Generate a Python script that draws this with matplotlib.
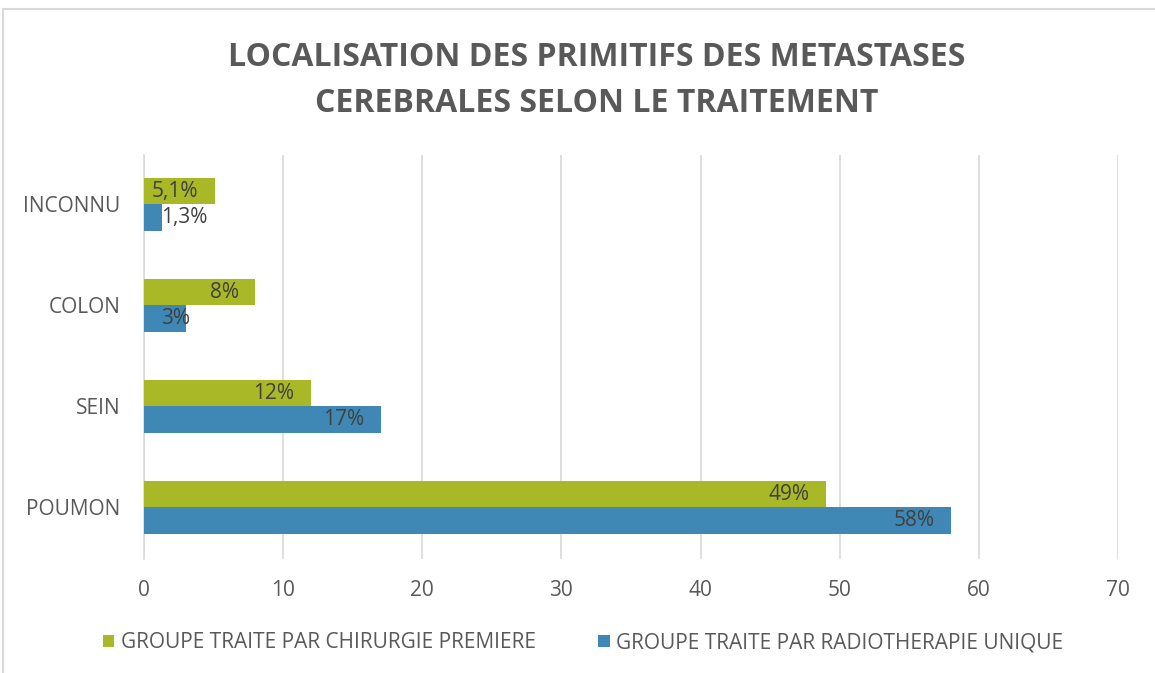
import matplotlib
matplotlib.use("Agg")
import matplotlib.pyplot as plt
from matplotlib.lines import Line2D
import numpy as np

categories = ["POUMON", "SEIN", "COLON", "INCONNU"]
chirurgie = [49, 12, 8, 5.1]
radiotherapie = [58, 17, 3, 1.3]
chirurgie_labels = ["49%", "12%", "8%", "5,1%"]
radiotherapie_labels = ["58%", "17%", "3%", "1,3%"]
series_names = ["GROUPE TRAITE PAR CHIRURGIE PREMIERE",
                "GROUPE TRAITE PAR RADIOTHERAPIE UNIQUE"]
xticks = [0, 10, 20, 30, 40, 50, 60, 70]

GREEN = "#A8B826"
BLUE = "#3F88B5"
TEXT = "#595959"
LABEL = "#404040"
GRID = "#D9D9D9"
FS = 15

plt.rcParams["font.family"] = ["Open Sans", "DejaVu Sans"]

W, H = 1155, 673
fig = plt.figure(figsize=(W / 100, H / 100), dpi=100)
ax = fig.add_axes([144 / W, 114 / H, (1118 - 144) / W, (559 - 155) / H])

y = np.arange(len(categories))
bh = 0.26
ax.barh(y + bh / 2, chirurgie, height=bh, color=GREEN, label=series_names[0], zorder=3)
ax.barh(y - bh / 2, radiotherapie, height=bh, color=BLUE, label=series_names[1], zorder=3)


def add_labels(vals, labels, offs):
    for yi, v, lab in zip(y, vals, labels):
        if v < 4:
            ax.annotate(lab, xy=(0, yi + offs), xytext=(12, 0), textcoords="offset points",
                        ha="left", va="center", fontsize=FS, color=LABEL, zorder=4)
        else:
            ax.annotate(lab, xy=(v, yi + offs), xytext=(-12, 0), textcoords="offset points",
                        ha="right", va="center", fontsize=FS, color=LABEL, zorder=4)


add_labels(chirurgie, chirurgie_labels, bh / 2)
add_labels(radiotherapie, radiotherapie_labels, -bh / 2)

ax.set_xlim(0, 70)
ax.set_ylim(-0.51, 3.49)
ax.set_xticks(xticks)
ax.set_yticks(y)
ax.set_yticklabels(categories)
ax.tick_params(axis="both", length=0, labelsize=FS, labelcolor=TEXT)
ax.tick_params(axis="x", pad=15)
ax.tick_params(axis="y", pad=17)
ax.grid(axis="x", color=GRID, linewidth=1.2, zorder=0)
for s in ["top", "right", "bottom"]:
    ax.spines[s].set_visible(False)
ax.spines["left"].set_color(GRID)
ax.spines["left"].set_linewidth(1.2)

title_x = 597 / W
fig.text(title_x, 1 - 58 / H, "LOCALISATION DES PRIMITIFS DES METASTASES",
         ha="center", va="center", fontsize=23, fontweight="bold", color=TEXT)
fig.text(title_x, 1 - 103 / H, "CEREBRALES SELON LE TRAITEMENT",
         ha="center", va="center", fontsize=23, fontweight="bold", color=TEXT)

fig.legend(loc="center", bbox_to_anchor=(583 / W, 1 - 643 / H), ncol=2, frameon=False,
           fontsize=FS, labelcolor=TEXT, handlelength=0.55, handleheight=0.55,
           handletextpad=0.3, columnspacing=3.0)

# outer chart border
fig.add_artist(Line2D([3 / W, 3 / W], [0, 1 - 9 / H], transform=fig.transFigure, color=GRID, lw=1.5))
fig.add_artist(Line2D([3 / W, 1], [1 - 9 / H, 1 - 9 / H], transform=fig.transFigure, color=GRID, lw=1.5))

fig.savefig("out.png", dpi=100)
